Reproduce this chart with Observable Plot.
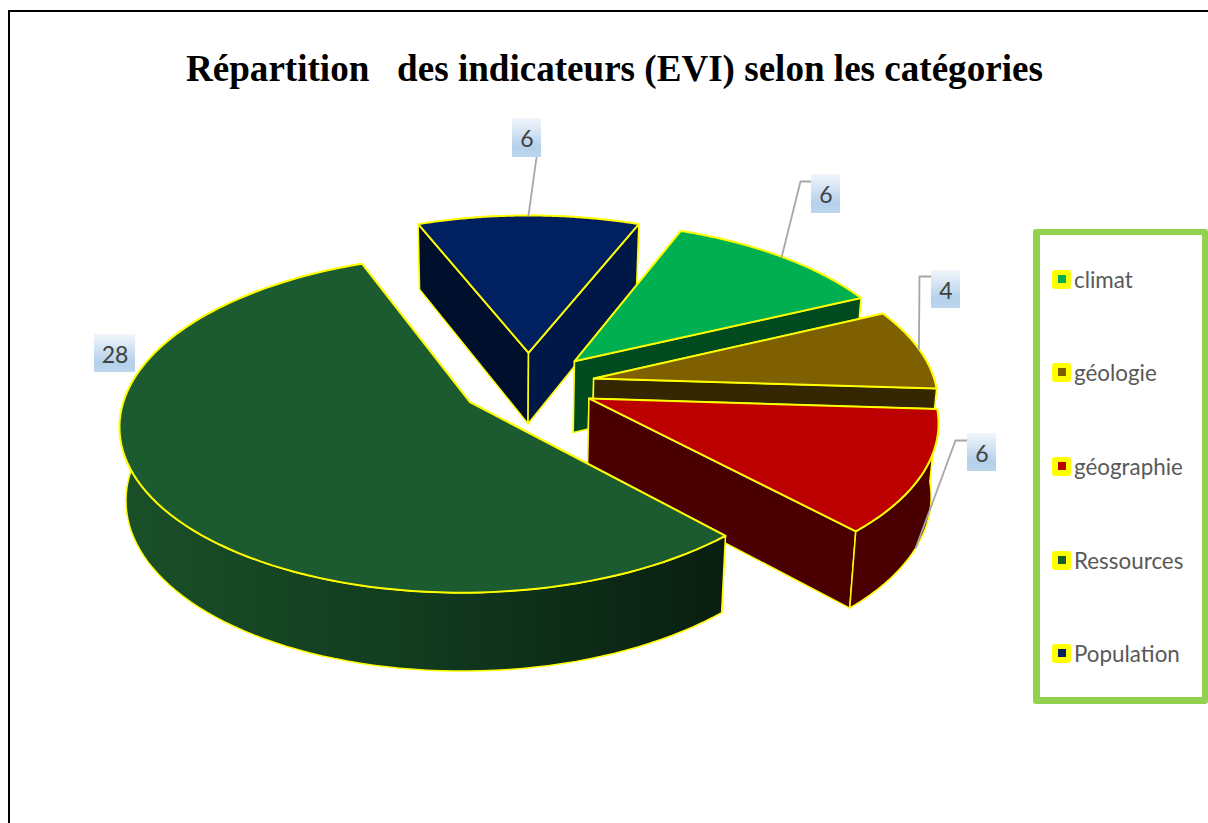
<!DOCTYPE html>
<html lang="fr">
<head>
<meta charset="utf-8">
<script src="https://cdn.jsdelivr.net/npm/d3@7"></script>
<script src="https://cdn.jsdelivr.net/npm/@observablehq/plot@0.6"></script>
<style>
html,body{margin:0;padding:0;background:#fff;overflow:hidden}
#page{position:relative;width:1208px;height:823px;overflow:hidden}
#frame{position:absolute;left:8px;top:10px;width:1300px;height:900px;border:2px solid #000;box-sizing:border-box}
#title{position:absolute;left:186px;top:46px;white-space:pre;font:bold 37.1px "Liberation Serif",serif;color:#000;line-height:46px}
#chart{position:absolute;left:0;top:0}
#chart svg{display:block;background:transparent}
#legend{position:absolute;left:1033px;top:229px;width:175px;height:475px;box-sizing:border-box;border-style:solid;border-color:#92D050;border-width:6px 6px 7px 7px;border-radius:3px;background:#fff}
.li{position:absolute;left:12px;height:19px;display:flex;align-items:center;font:22.4px Lato,sans-serif;color:#595959;white-space:nowrap}
.sw{width:19px;height:19px;border-radius:3px;background:#ff0;display:flex;align-items:center;justify-content:center;margin-right:3px}
.sw i{display:block;width:8px;height:8px}
</style>
</head>
<body>
<div id="page">
  <div id="frame"></div>
  <div id="chart"></div>
  <div id="title"></div>
  <div id="legend"></div>
</div>
<script>
// ---- data ----
const title = "Répartition   des indicateurs (EVI) selon les catégories";
const pieOrder   = ["Population","climat","géologie","géographie","Ressources"]; // clockwise from the back of the pie
const pieValues  = [6, 6, 4, 6, 28];
const legendOrder = ["climat","géologie","géographie","Ressources","Population"];
const topColors  = ["#002060","#00B050","#7F6000","#BC0000","#1B5B2F"];
const wallSideA  = ["#000F2C","#004A20","#332600","#4A0000","#0A1F10"]; // wall along the slice's first edge
const wallSideB  = ["#001848","#004A20","#332600","#4A0000","#1A5028"]; // wall along the slice's last edge
const wallOuter  = ["#001848","#004A20","#332600","#4A0000","url(#wallGreen)"];

// ---- projection of the 3D pie (layout only) ----
const RX = 342, RY = 162, OX = 528, OY = 384, W = 1208, H = 823;
const persp = 0.125, explode = 0.2, startAngle = -21.6;
const sliceShift = [[0,0],[0,0],[-0.005,0],[-0.006,0],[0,0]];
const project = (X, Y) => ({u: X / (1 - persp * Y), v: Y / (1 - persp * Y), Y});
const lower = p => ({u: p.u + (-0.08 - p.u) * 0.017, v: p.v + (72 + 5.8 * p.Y) / RY, Y: p.Y});
const rad = d => d * Math.PI / 180;

const total = d3.sum(pieValues);
let a0 = startAngle;
const slices = pieValues.map((v, i) => {
  const a1 = a0 + v / total * 360, mid = (a0 + a1) / 2;
  const ex = explode * Math.sin(rad(mid)) + sliceShift[i][0];
  const ey = -explode * Math.cos(rad(mid)) + sliceShift[i][1];
  const at = a => project(ex + Math.sin(rad(a)), ey - Math.cos(rad(a)));
  const arc = d3.range(0, 101).map(k => at(a0 + (a1 - a0) * k / 100));
  const s = {i, a0, a1, mid, apex: project(ex, ey), arc, midTop: at(mid)};
  a0 = a1;
  return s;
});

// ---- label placement in pie units (layout only) ----
const lab = (px, py) => ({u: (px - OX) / RX, v: (py - OY) / RY});
const labelBox = [[512,118,541,157],[811,174,840,213],[931,270,960,308],[967,433,996,471],[94,334,135,372]];
const labelBends = [
  [[536,157]],
  [[800,181],[811,181]],
  [[919,276],[931,276]],
  [[955,440],[967,440]],
  null
];
const leaderFromBottom = [false,false,false,true,false];

// ---- faces ----
const line = (pts, fill, w) => Plot.line(pts, {x:"u", y:"v", curve:"linear-closed", fill, stroke:"#FFFF00", strokeWidth:w, strokeLinejoin:"round"});
const faces = [];
slices.forEach(s => {
  const first = s.arc[0], last = s.arc[s.arc.length-1];
  const outer = line([...s.arc, ...s.arc.map(lower).reverse()], wallOuter[s.i], 1.5);
  const sides = [
    line([s.apex, first, lower(first), lower(s.apex)], wallSideA[s.i], 1.5),
    line([s.apex, last, lower(last), lower(s.apex)], wallSideB[s.i], 1.5)
  ];
  const facingFront = Math.cos(rad(s.mid)) < 0;
  faces.push(...(facingFront ? [...sides, outer] : [outer, ...sides]));
  faces.push(line([s.apex, ...s.arc], topColors[s.i], 2));
});

// ---- label marks ----
const boxes = labelBox.map((b,i) => {
  const p = lab(b[0],b[1]), q = lab(b[2],b[3]);
  return {x1:p.u, y1:p.v, x2:q.u, y2:q.v, cu:(p.u+q.u)/2, cv:(p.v+q.v)/2, t:String(pieValues[i])};
});
const leaders = [];
slices.forEach(s => {
  const bends = labelBends[s.i];
  if (!bends) return;
  const st = leaderFromBottom[s.i] ? lower(s.midTop) : s.midTop;
  leaders.push(Plot.line([st, ...bends.map(b => lab(b[0],b[1]))], {x:"u", y:"v", stroke:"#A6A6A6", strokeWidth:1.8}));
});

const defs = () => {
  const d = d3.create("svg:defs");
  const g1 = d.append("linearGradient").attr("id","wallGreen");
  [[0,"#1A5028"],[0.45,"#123D20"],[1,"#091E10"]].forEach(([o,c]) => g1.append("stop").attr("offset",o).attr("stop-color",c));
  const g2 = d.append("linearGradient").attr("id","labelBlue").attr("x2",0).attr("y2",1);
  [[0,"#F2F6FB"],[0.75,"#B4D0EB"],[1,"#BDD6EE"]].forEach(([o,c]) => g2.append("stop").attr("offset",o).attr("stop-color",c));
  return d.node();
};

const chart = Plot.plot({
  width: W, height: H, margin: 0,
  style: {background:"transparent"},
  x: {axis:null, domain:[-OX/RX,(W-OX)/RX], range:[0,W]},
  y: {axis:null, domain:[-OY/RY,(H-OY)/RY], range:[0,H]},
  marks: [
    defs,
    ...faces,
    ...leaders,
    Plot.rect(boxes, {x1:"x1", x2:"x2", y1:"y1", y2:"y2", fill:"url(#labelBlue)"}),
    Plot.text(boxes, {x:"cu", y:"cv", text:"t", dy:2, fontSize:23, fontFamily:"Lato,sans-serif", fill:"#404040"})
  ]
});
document.getElementById("chart").appendChild(chart);

// ---- title and legend ----
document.getElementById("title").textContent = title;
const legend = d3.select("#legend");
const legendY = [279,372,466,560,653];
legendOrder.forEach((name,i) => {
  const row = legend.append("div").attr("class","li").style("top",(legendY[i]-9.5-229-6)+"px");
  row.append("span").attr("class","sw").append("i").style("background",topColors[pieOrder.indexOf(name)]);
  row.append("span").text(name);
});
</script>
</body>
</html>
